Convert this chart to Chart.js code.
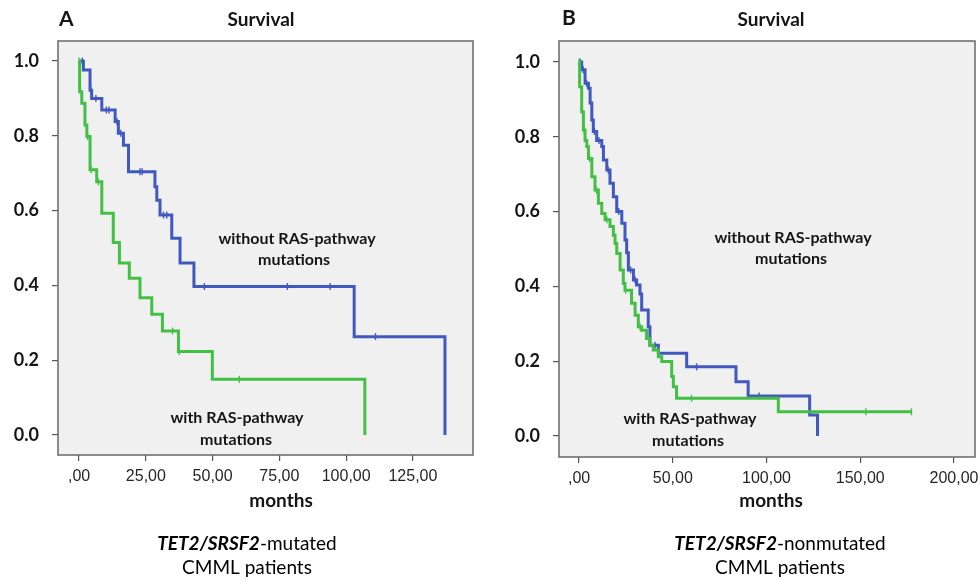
<!DOCTYPE html>
<html>
<head>
<meta charset="utf-8">
<script src="https://cdn.jsdelivr.net/npm/chart.js@4.4.1/dist/chart.umd.min.js"></script>
<style>
  html, body { margin: 0; padding: 0; background: #fff; }
  #wrap { position: relative; width: 980px; height: 579px; }
  canvas { position: absolute; top: 0; }
  #gA { left: 0; }
  #gB { left: 490px; }
</style>
</head>
<body>
<div id="wrap">
  <canvas id="gA" width="490" height="579"></canvas>
  <canvas id="gB" width="490" height="579"></canvas>
</div>
<script>
// Cores das curvas
const azul = '#4058c0';
const verde = '#42c044';

// Painel A - TET2/SRSF2-mutated (tempo em meses, sobrevida apos cada queda)
const tempoA_sem = [0, 1.6, 4.1, 4.7, 8.5, 13.5, 14.7, 16.6, 18.5, 28.4, 29.1, 30.3, 34.7, 37.8, 43.0, 103.0, 137.0];
const survA_sem  = [1.0, 0.976, 0.922, 0.900, 0.869, 0.838, 0.807, 0.775, 0.704, 0.664, 0.628, 0.588, 0.526, 0.460, 0.397, 0.263, 0.0];
const tempoA_com = [0, 0.2, 1.0, 2.2, 2.9, 4.1, 6.6, 8.5, 12.8, 15.1, 18.8, 22.8, 27.2, 31.2, 37.2, 49.9, 107.0];
const survA_com  = [1.0, 0.918, 0.887, 0.829, 0.798, 0.709, 0.677, 0.593, 0.515, 0.460, 0.419, 0.367, 0.323, 0.278, 0.223, 0.149, 0.0];
// Censuras painel A
const censA_sem_t = [1.2, 4.4, 6.3, 10.2, 11.2, 14.2, 15.6, 22.8, 23.6, 31.6, 32.8, 46.9, 78.0, 94.0, 111.0];
const censA_sem_s = [1.0, 0.922, 0.900, 0.869, 0.869, 0.838, 0.807, 0.704, 0.704, 0.588, 0.588, 0.397, 0.397, 0.397, 0.263];
const censA_com_t = [0, 3.2, 4.5, 7.2, 35.0, 37.5, 60.0];
const censA_com_s = [1.0, 0.798, 0.709, 0.677, 0.278, 0.223, 0.149];

// Painel B - TET2/SRSF2-nonmutated
const tempoB_sem = [0, 1.4, 3.2, 5.0, 5.9, 6.8, 7.6, 9.4, 12.1, 13.0, 14.8, 16.5, 18.3, 20.1, 22.8, 24.5, 25.4, 26.3, 29.0, 30.7, 32.5, 33.4, 36.9, 37.8, 42.3, 57.4, 83.7, 90.2, 123.0, 127.2];
const survB_sem  = [1.0, 0.979, 0.943, 0.930, 0.890, 0.845, 0.814, 0.790, 0.774, 0.738, 0.711, 0.676, 0.640, 0.600, 0.569, 0.524, 0.490, 0.444, 0.417, 0.404, 0.380, 0.337, 0.292, 0.243, 0.221, 0.185, 0.145, 0.107, 0.056, 0.0];
const tempoB_com = [0, 0.3, 1.4, 2.3, 3.2, 4.1, 5.0, 6.8, 8.5, 10.3, 12.1, 13.9, 16.5, 18.3, 19.2, 20.1, 21.9, 23.6, 24.5, 28.0, 29.9, 31.6, 33.4, 36.0, 37.8, 39.6, 42.3, 44.1, 49.4, 50.3, 52.0, 106.3, 177.3];
const survB_com  = [1.0, 0.934, 0.867, 0.818, 0.790, 0.774, 0.742, 0.693, 0.658, 0.622, 0.595, 0.578, 0.560, 0.537, 0.515, 0.488, 0.444, 0.408, 0.390, 0.355, 0.323, 0.292, 0.283, 0.261, 0.243, 0.230, 0.212, 0.199, 0.159, 0.132, 0.101, 0.065, 0.065];
// Censuras painel B
const censB_sem_t = [0.6, 2.2, 4.0, 8.2, 10.6, 15.6, 21.2, 27.5, 29.9, 40.5, 62.7, 96.0];
const censB_sem_s = [1.0, 0.979, 0.943, 0.814, 0.790, 0.711, 0.600, 0.444, 0.417, 0.243, 0.185, 0.107];
const censB_com_t = [0, 2.7, 5.6, 9.2, 14.8, 24.8, 32.5, 60.0, 153.0, 177.3];
const censB_com_s = [1.0, 0.818, 0.742, 0.658, 0.578, 0.390, 0.292, 0.101, 0.065, 0.065];

// Ticks dos eixos
const yTicks  = [0, 0.2, 0.4, 0.6, 0.8, 1.0];
const yLabels = ['0.0', '0.2', '0.4', '0.6', '0.8', '1.0'];
const xTicksA  = [0, 25, 50, 75, 100, 125];
const xLabelsA = [',00', '25,00', '50,00', '75,00', '100,00', '125,00'];
const xTicksB  = [0, 50, 100, 150, 200];
const xLabelsB = [',00', '50,00', '100,00', '150,00', '200,00'];

const pts = (xs, ys) => xs.map((x, i) => ({ x: x, y: ys[i] }));

// Fundo cinza e moldura da area do grafico
const moldura = {
  id: 'moldura',
  beforeDraw(chart) {
    const { ctx, chartArea: a } = chart;
    ctx.save();
    ctx.fillStyle = '#f0f0f0';
    ctx.fillRect(a.left, a.top, a.width, a.height);
    ctx.restore();
  },
  afterDraw(chart) {
    const { ctx, chartArea: a } = chart;
    ctx.save();
    ctx.strokeStyle = '#707070';
    ctx.lineWidth = 1.6;
    ctx.strokeRect(a.left, a.top, a.width, a.height);
    ctx.restore();
  }
};

// Textos (titulo, anotacoes, legenda de baixo)
function criarTextos(itens) {
  return {
    id: 'textos',
    afterDraw(chart) {
      const ctx = chart.ctx;
      ctx.save();
      ctx.textBaseline = 'alphabetic';
      itens.forEach(it => {
        let w = 0;
        it.partes.forEach(p => { ctx.font = p.f; w += ctx.measureText(p.t).width; });
        let x = it.left ? it.x : it.x - w / 2;
        ctx.fillStyle = it.cor || '#151515';
        it.partes.forEach(p => {
          ctx.font = p.f;
          ctx.fillText(p.t, x, it.y);
          x += ctx.measureText(p.t).width;
        });
      });
      ctx.restore();
    }
  };
}

const fBold = s => 'bold ' + s + 'px Lato';
const fReg = s => s + 'px Lato';
const fIta = s => 'italic bold ' + s + 'px Lato';

function criarGrafico(id, cfg) {
  const ctx = document.getElementById(id).getContext('2d');
  const censura = (t, s, cor) => ({
    data: pts(t, s),
    showLine: false,
    pointStyle: 'line',
    pointRadius: 3.5,
    pointHoverRadius: 3.5,
    pointRotation: 90,
    pointBorderColor: cor,
    pointBorderWidth: 1.4
  });
  const curva = (t, s, cor) => ({
    data: pts(t, s),
    borderColor: cor,
    borderWidth: 3,
    stepped: true,
    pointRadius: 0,
    fill: false
  });
  return new Chart(ctx, {
    type: 'line',
    data: {
      datasets: [
        censura(cfg.cComT, cfg.cComS, verde),
        curva(cfg.tCom, cfg.sCom, verde),
        censura(cfg.cSemT, cfg.cSemS, azul),
        curva(cfg.tSem, cfg.sSem, azul)
      ]
    },
    options: {
      responsive: false,
      animation: false,
      layout: { padding: cfg.padding },
      plugins: { legend: { display: false }, tooltip: { enabled: false } },
      scales: {
        x: {
          type: 'linear',
          min: cfg.xMin,
          max: cfg.xMax,
          afterBuildTicks: s => { s.ticks = cfg.xTicks.map(v => ({ value: v })); },
          afterFit: s => { s.height = 30; s.paddingLeft = 0; s.paddingRight = 0; },
          border: { display: false },
          grid: { drawOnChartArea: false, tickLength: 6, color: '#555', lineWidth: 1.2 },
          ticks: {
            padding: 6,
            color: '#262626',
            font: { family: 'Liberation Sans', size: 16 },
            callback: (v, i) => cfg.xLabels[i]
          }
        },
        y: {
          min: cfg.yMin,
          max: cfg.yMax,
          afterBuildTicks: s => { s.ticks = yTicks.map(v => ({ value: v })); },
          afterFit: s => { s.width = cfg.yWidth; s.paddingTop = 0; s.paddingBottom = 0; },
          border: { display: false },
          grid: { drawOnChartArea: false, tickLength: 6, color: '#555', lineWidth: 1.2 },
          ticks: {
            padding: 13,
            color: '#151515',
            font: { family: 'Lato', size: 18, weight: 'bold' },
            callback: (v, i) => yLabels[i]
          }
        }
      }
    },
    plugins: [moldura, criarTextos(cfg.textos)]
  });
}

// Grafico A
criarGrafico('gA', {
  tSem: tempoA_sem, sSem: survA_sem, tCom: tempoA_com, sCom: survA_com,
  cSemT: censA_sem_t, cSemS: censA_sem_s, cComT: censA_com_t, cComS: censA_com_s,
  xMin: -7.9, xMax: 147.5, yMin: -0.0535, yMax: 1.0535,
  xTicks: xTicksA, xLabels: xLabelsA,
  yWidth: 58,
  padding: { top: 41, left: 0, right: 17, bottom: 94 },
  textos: [
    { x: 59, y: 26, left: true, partes: [{ t: 'A', f: fBold(21) }] },
    { x: 261, y: 26, partes: [{ t: 'Survival', f: fBold(19) }] },
    { x: 297, y: 244, partes: [{ t: 'without RAS-pathway', f: fBold(16) }] },
    { x: 294, y: 265, partes: [{ t: 'mutations', f: fBold(16) }] },
    { x: 237, y: 423, partes: [{ t: 'with RAS-pathway', f: fBold(16) }] },
    { x: 236, y: 445, partes: [{ t: 'mutations', f: fBold(16) }] },
    { x: 281, y: 507, partes: [{ t: 'months', f: fBold(19) }] },
    { x: 247, y: 550, cor: '#000', partes: [{ t: 'TET2/SRSF2', f: fIta(19) }, { t: '-mutated', f: fReg(19) }] },
    { x: 247, y: 574, cor: '#000', partes: [{ t: 'CMML patients', f: fReg(19) }] }
  ]
});

// Grafico B
criarGrafico('gB', {
  tSem: tempoB_sem, sSem: survB_sem, tCom: tempoB_com, sCom: survB_com,
  cSemT: censB_sem_t, cSemS: censB_sem_s, cComT: censB_com_t, cComS: censB_com_s,
  xMin: -10.7, xMax: 211.2, yMin: -0.056, yMax: 1.056,
  xTicks: xTicksB, xLabels: xLabelsB,
  yWidth: 69,
  padding: { top: 41, left: 0, right: 5, bottom: 92 },
  textos: [
    { x: 72, y: 25, left: true, partes: [{ t: 'B', f: fBold(21) }] },
    { x: 281, y: 26, partes: [{ t: 'Survival', f: fBold(19) }] },
    { x: 303, y: 243, partes: [{ t: 'without RAS-pathway', f: fBold(16) }] },
    { x: 301, y: 264, partes: [{ t: 'mutations', f: fBold(16) }] },
    { x: 200, y: 424, partes: [{ t: 'with RAS-pathway', f: fBold(16) }] },
    { x: 198, y: 446, partes: [{ t: 'mutations', f: fBold(16) }] },
    { x: 281, y: 507, partes: [{ t: 'months', f: fBold(19) }] },
    { x: 290, y: 550, cor: '#000', partes: [{ t: 'TET2/SRSF2', f: fIta(19) }, { t: '-nonmutated', f: fReg(19) }] },
    { x: 290, y: 574, cor: '#000', partes: [{ t: 'CMML patients', f: fReg(19) }] }
  ]
});
</script>
</body>
</html>
